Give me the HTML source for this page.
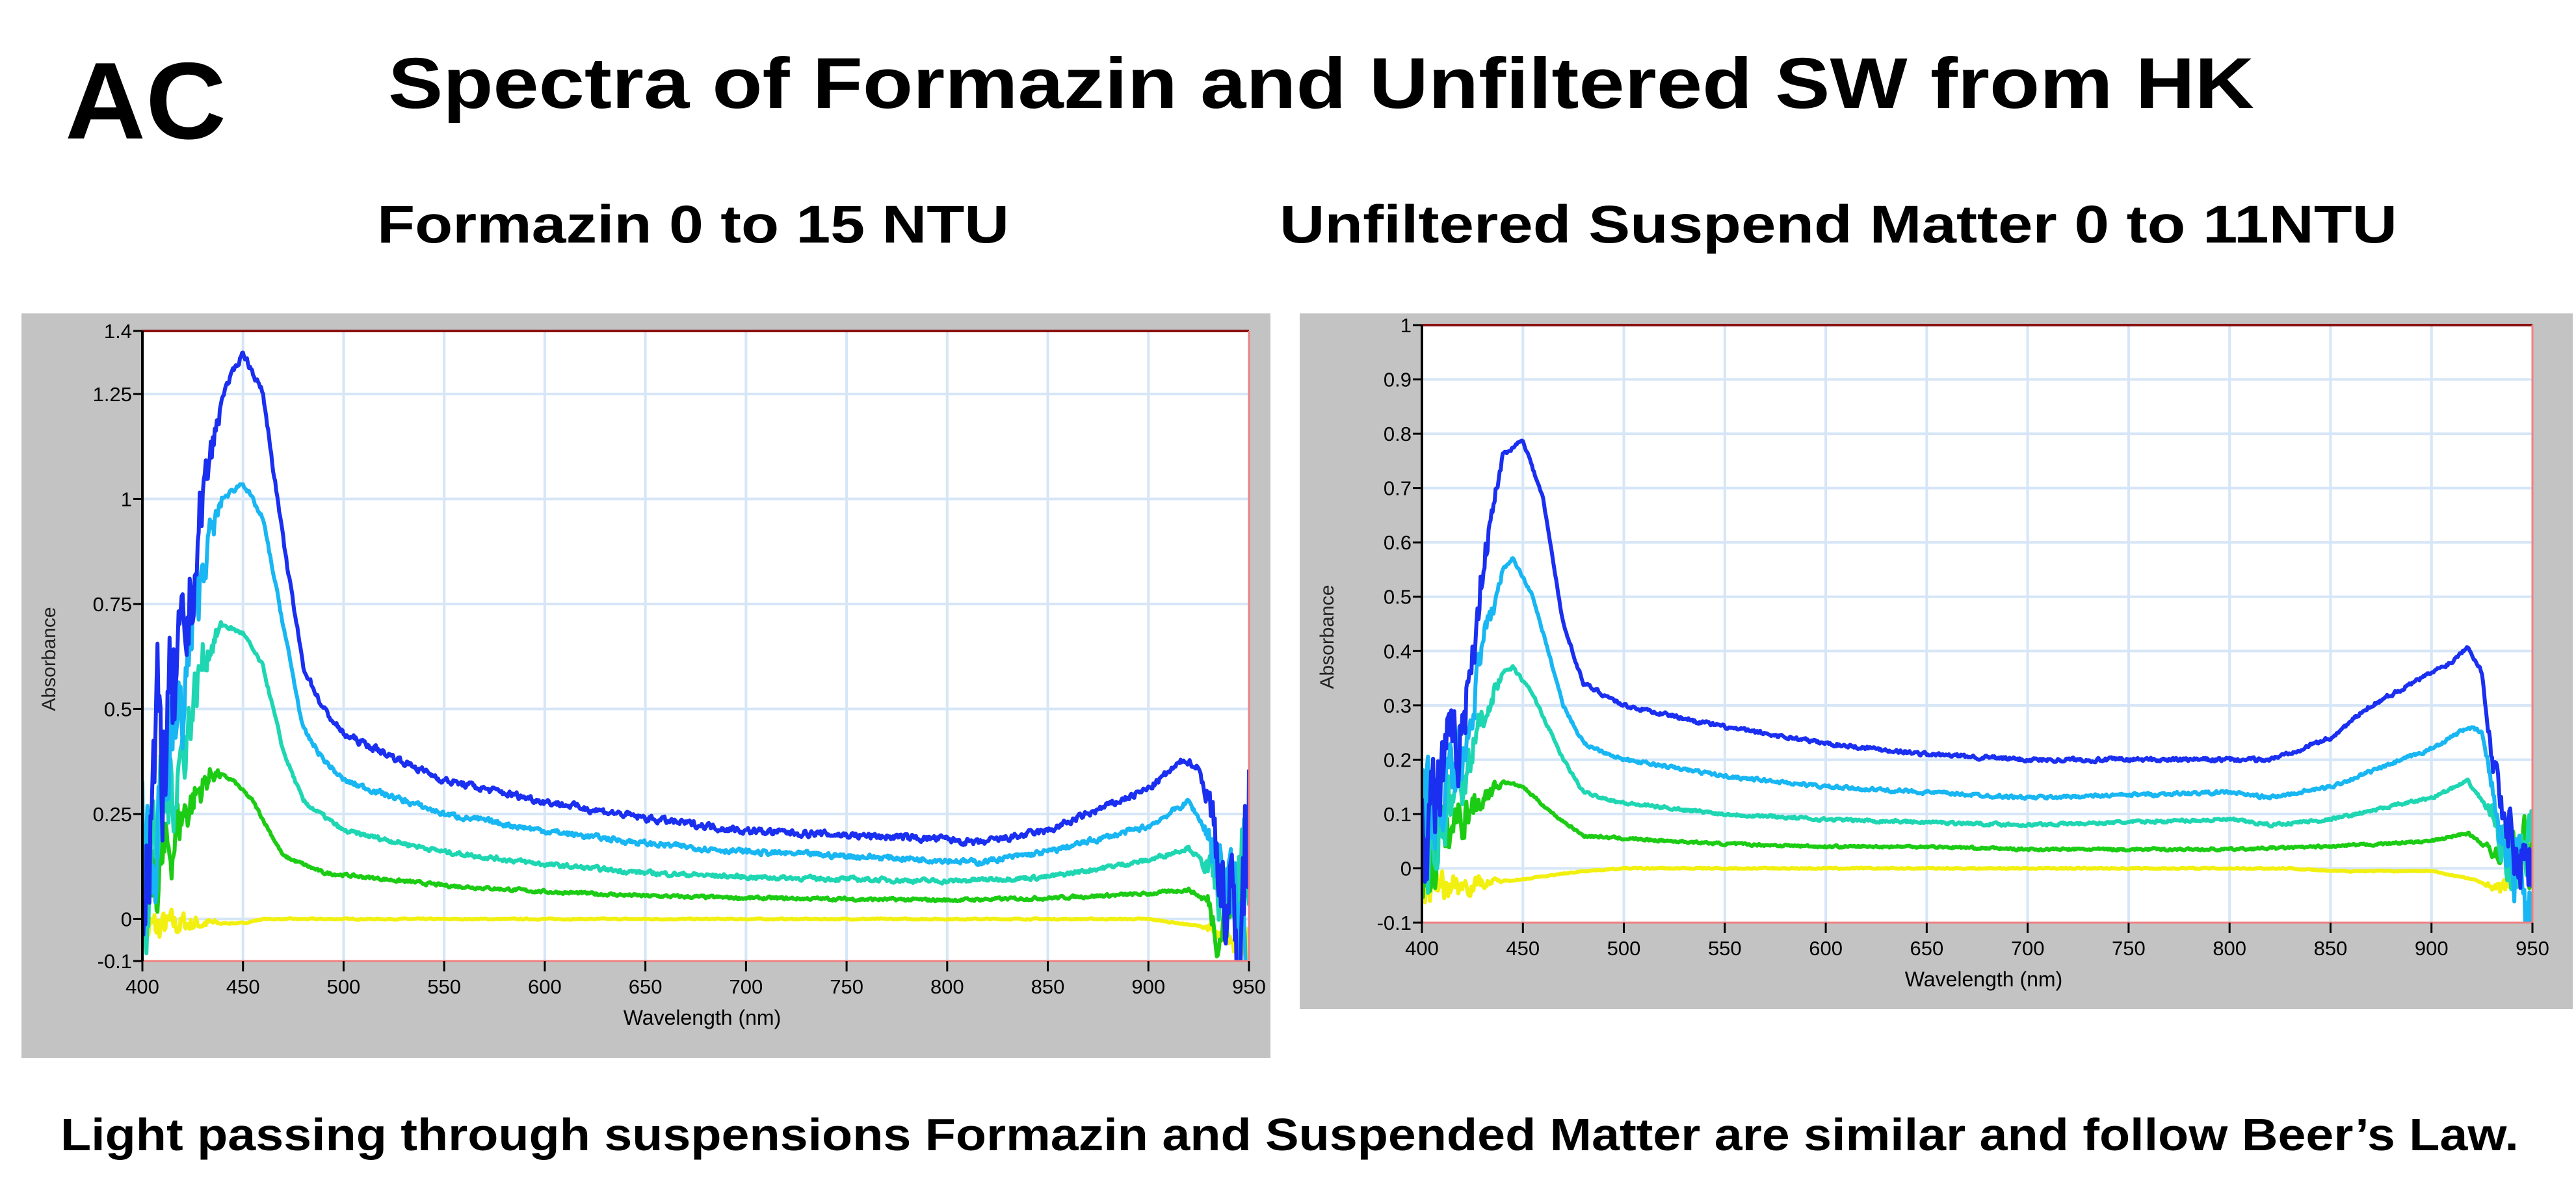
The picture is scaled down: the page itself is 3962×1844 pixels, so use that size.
<!DOCTYPE html>
<html><head><meta charset="utf-8"><style>
html,body{margin:0;padding:0;background:#fff;}
svg{display:block;}
</style></head><body>
<svg id="s" width="3962" height="1844" viewBox="0 0 3962 1844" xmlns="http://www.w3.org/2000/svg" font-family="Liberation Sans, Arial, sans-serif">
<rect width="3962" height="1844" fill="#fff"/>
<text x="100" y="213" font-size="168" font-weight="bold" textLength="248" lengthAdjust="spacingAndGlyphs">AC</text>
<text x="597" y="166" font-size="110" font-weight="bold" textLength="2870" lengthAdjust="spacingAndGlyphs">Spectra of Formazin and Unfiltered SW from HK</text>
<text x="580" y="373" font-size="82" font-weight="bold" textLength="972" lengthAdjust="spacingAndGlyphs">Formazin 0 to 15 NTU</text>
<text x="1968" y="373" font-size="82" font-weight="bold" textLength="1719" lengthAdjust="spacingAndGlyphs">Unfiltered Suspend Matter 0 to 11NTU</text>
<text x="93" y="1769" font-size="70" font-weight="bold" textLength="3781" lengthAdjust="spacingAndGlyphs">Light passing through suspensions Formazin and Suspended Matter are similar and follow Beer’s Law.</text>
<g id="c1"></g><g id="c2"></g>
</svg>
<script>
var NS="http://www.w3.org/2000/svg";
function el(p,t,a,txt){var e=document.createElementNS(NS,t);for(var k in a)e.setAttribute(k,a[k]);if(txt!=null)e.textContent=txt;p.appendChild(e);return e;}
var seed=7;function rnd(){seed=(seed*16807)%2147483647;return seed/2147483647-0.5;}
function interp(k,w){for(var i=0;i<k.length-1;i++){if(w<=k[i+1][0]){var a=k[i],b=k[i+1];return a[1]+(b[1]-a[1])*(w-a[0])/(b[0]-a[0]);}}return k[k.length-1][1];}
function chart(g,P){
 el(g,"rect",{x:P.gx,y:P.gy,width:P.gw,height:P.gh,fill:"#c3c3c3"});
 el(g,"rect",{x:P.x0,y:P.y0,width:P.x1-P.x0,height:P.y1-P.y0,fill:"#fff"});
 function X(w){return P.x0+(w-400)/550*(P.x1-P.x0);}
 function Y(v){return P.y1-(v-P.ymin)/(P.ymax-P.ymin)*(P.y1-P.y0);}
 for(var w=450;w<950;w+=50)el(g,"line",{x1:X(w),x2:X(w),y1:P.y0,y2:P.y1,stroke:"#d6e6f7","stroke-width":4});
 P.yt.forEach(function(v){if(v>P.ymin&&v<P.ymax)el(g,"line",{x1:P.x0,x2:P.x1,y1:Y(v),y2:Y(v),stroke:"#d6e6f7","stroke-width":4});});
 var cl=el(g,"clipPath",{id:"cp"+P.id});el(cl,"rect",{x:P.x0,y:P.y0,width:P.x1-P.x0,height:P.y1-P.y0});
 var sg=el(g,"g",{"clip-path":"url(#cp"+P.id+")"});
 P.series.forEach(function(s){
  var d="",prev=0;for(var w=400;w<=950;w+=0.5){var v=interp(s.k,w);var amp=s.n*(w<440?(440-w)/40*1.0+0.06:(w>925?(w-925)/25:0.03));var r=rnd()*amp;prev=0.5*prev+r;v+=prev;d+=(d?"L":"M")+X(w).toFixed(1)+","+Y(v).toFixed(1);}
  el(sg,"path",{d:d,fill:"none",stroke:s.c,"stroke-width":6,"stroke-linejoin":"round"});
 });
 el(g,"line",{x1:P.x0,x2:P.x1,y1:P.y0,y2:P.y0,stroke:"#8b1010","stroke-width":4});
 el(g,"line",{x1:P.x1,x2:P.x1,y1:P.y0,y2:P.y1,stroke:"#f08080","stroke-width":3});
 el(g,"line",{x1:P.x0,x2:P.x1,y1:P.y1,y2:P.y1,stroke:"#f08080","stroke-width":3});
 el(g,"line",{x1:P.x0,x2:P.x0,y1:P.y0,y2:P.y1,stroke:"#000","stroke-width":4});
 P.yt.forEach(function(v){var y=Y(v);el(g,"line",{x1:P.x0-14,x2:P.x0,y1:y,y2:y,stroke:"#000","stroke-width":3});
  el(g,"text",{x:P.x0-16,y:y+11,"font-size":31,"text-anchor":"end"},String(v));});
 for(var w=400;w<=950;w+=50){el(g,"line",{x1:X(w),x2:X(w),y1:P.y1,y2:P.y1+16,stroke:"#000","stroke-width":3});
  el(g,"text",{x:X(w),y:P.y1+50,"font-size":31,"text-anchor":"middle"},String(w));}
 el(g,"text",{x:(P.x0+P.x1)/2+10,y:P.y1+98,"font-size":32,"text-anchor":"middle"},"Wavelength (nm)");
 var ax=P.gx+52,ay=(P.y0+P.y1)/2+20;
 el(g,"text",{x:ax,y:ay,"font-size":30,"text-anchor":"middle",transform:"rotate(-90 "+ax+" "+ay+")","fill":"#222"},"Absorbance");
}
chart(document.getElementById("c1"),{id:1,gx:33,gy:482,gw:1921,gh:1145,x0:219,x1:1921,y0:509,y1:1478,ymin:-0.1,ymax:1.4,
 yt:[1.4,1.25,1,0.75,0.5,0.25,0,-0.1],
 series:[
 {c:"#f2f010",n:0.08,k:[[400,-0.03],[420,-0.01],[450,-0.01],[460,0],[900,0],[930,-0.02],[935,-0.05],[950,-0.05]]},
 {c:"#1ccc14",n:0.2,k:[[400,0.05],[410,0.12],[420,0.25],[435,0.35],[445,0.33],[455,0.28],[470,0.15],[490,0.11],[550,0.08],[600,0.065],[650,0.055],[700,0.05],[800,0.045],[850,0.05],[900,0.06],[920,0.07],[930,0.04],[935,-0.05],[940,0.05],[950,0.1]]},
 {c:"#1ed6b2",n:0.28,k:[[400,0.1],[420,0.4],[430,0.62],[440,0.7],[450,0.68],[460,0.6],[470,0.4],[480,0.28],[500,0.21],[550,0.16],[600,0.13],[650,0.11],[700,0.1],[800,0.09],[850,0.1],[900,0.14],[920,0.17],[930,0.12],[940,0],[950,0.1]]},
 {c:"#18b6f2",n:0.35,k:[[400,0.15],[420,0.5],[430,0.85],[440,1.0],[450,1.04],[460,0.95],[470,0.7],[480,0.45],[490,0.38],[500,0.33],[550,0.25],[600,0.21],[650,0.18],[700,0.16],[750,0.15],[800,0.14],[815,0.135],[850,0.16],[900,0.22],[920,0.28],[930,0.2],[940,0.05],[950,-0.1]]},
 {c:"#1a2ff0",n:0.45,k:[[400,0.2],[410,0.4],[420,0.6],[430,1.0],[440,1.25],[450,1.35],[460,1.25],[470,0.9],[480,0.6],[490,0.5],[500,0.44],[550,0.33],[600,0.28],[650,0.24],[700,0.21],[750,0.2],[800,0.19],[815,0.18],[850,0.21],[880,0.27],[900,0.31],[918,0.38],[925,0.36],[930,0.28],[935,0.15],[940,0],[945,-0.1],[950,0.25]]}
 ]});
chart(document.getElementById("c2"),{id:2,gx:1999,gy:482,gw:1958,gh:1070,x0:2187,x1:3895,y0:500,y1:1419,ymin:-0.1,ymax:1,
 yt:[1,0.9,0.8,0.7,0.6,0.5,0.4,0.3,0.2,0.1,0,-0.1],
 series:[
 {c:"#f2f010",n:0.06,k:[[400,-0.03],[420,-0.03],[450,-0.02],[480,-0.005],[500,0],[830,0],[850,-0.005],[900,-0.005],[920,-0.02],[935,-0.04],[950,0.03]]},
 {c:"#1ccc14",n:0.12,k:[[400,0],[420,0.1],[440,0.16],[450,0.15],[465,0.1],[480,0.06],[500,0.055],[550,0.045],[600,0.04],[650,0.04],[700,0.035],[800,0.035],[850,0.04],[900,0.05],[918,0.065],[930,0.03],[940,0.05],[950,0]]},
 {c:"#1ed6b2",n:0.15,k:[[400,0.04],[420,0.15],[430,0.28],[440,0.36],[445,0.37],[455,0.32],[470,0.2],[480,0.14],[500,0.12],[550,0.1],[600,0.09],[700,0.08],[800,0.09],[820,0.08],[850,0.09],[900,0.13],[918,0.16],[930,0.1],[940,0],[950,0.05]]},
 {c:"#18b6f2",n:0.17,k:[[400,0.06],[420,0.2],[430,0.4],[440,0.55],[445,0.57],[455,0.5],[470,0.3],[480,0.23],[500,0.2],[550,0.17],[600,0.15],[650,0.14],[700,0.13],[800,0.14],[820,0.13],[850,0.15],[900,0.22],[918,0.26],[925,0.25],[935,0.05],[950,-0.05]]},
 {c:"#1a2ff0",n:0.2,k:[[400,0.08],[420,0.25],[430,0.55],[440,0.76],[450,0.79],[460,0.68],[470,0.45],[480,0.34],[500,0.3],[550,0.26],[600,0.23],[650,0.21],[700,0.2],[750,0.2],[800,0.2],[820,0.2],[850,0.24],[870,0.3],[890,0.34],[910,0.38],[918,0.41],[925,0.36],[930,0.2],[940,0.05],[950,0]]}
 ]});
</script>
</body></html>
